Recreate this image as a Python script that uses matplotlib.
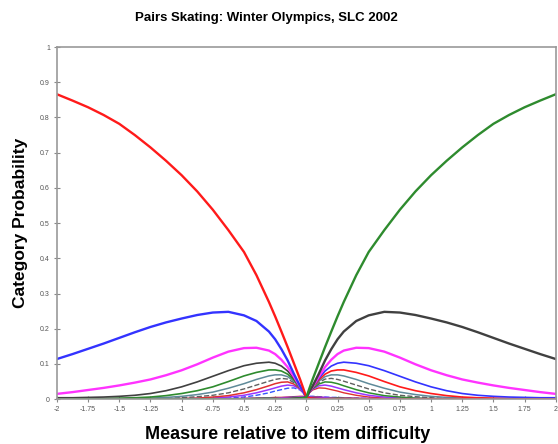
import numpy as np
import matplotlib
matplotlib.use("Agg")
import matplotlib.pyplot as plt

plt.rcParams['font.family'] = ['Liberation Sans', 'DejaVu Sans']

# measure grid (symmetric about 0)
x = [-2, -1.875, -1.75, -1.625, -1.5, -1.375, -1.25, -1.125, -1, -0.875, -0.75,
     -0.625, -0.5, -0.4, -0.3, -0.25, -0.2, -0.15, -0.1, -0.05, -0.025, 0,
     0.025, 0.05, 0.1, 0.15, 0.2, 0.25, 0.3, 0.4, 0.5, 0.625, 0.75,
     0.875, 1, 1.125, 1.25, 1.375, 1.5, 1.625, 1.75, 1.875, 2]

# lower categories; upper categories mirror them
cat0 = [0.866, 0.848, 0.829, 0.807, 0.782, 0.750, 0.715, 0.677, 0.636, 0.590, 0.538,
        0.480, 0.418, 0.352, 0.276, 0.235, 0.192, 0.148, 0.102, 0.056, 0.031, 0.005,
        0.003, 0.002, 0.001] + [0] * 18
cat1 = [0.114, 0.128, 0.143, 0.158, 0.174, 0.190, 0.205, 0.218, 0.229, 0.239, 0.246,
        0.248, 0.238, 0.222, 0.192, 0.170, 0.142, 0.110, 0.072, 0.037, 0.022, 0.005,
        0.004, 0.003, 0.002, 0.001] + [0] * 17
cat2 = [0.015, 0.020, 0.026, 0.032, 0.039, 0.047, 0.056, 0.068, 0.082, 0.099, 0.118,
        0.135, 0.145, 0.146, 0.138, 0.128, 0.112, 0.091, 0.064, 0.035, 0.021, 0.005,
        0.005, 0.004, 0.003, 0.002, 0.001] + [0] * 16
cat3 = [0.004, 0.004, 0.005, 0.006, 0.008, 0.011, 0.016, 0.024, 0.035, 0.049, 0.065,
        0.081, 0.095, 0.102, 0.105, 0.102, 0.094, 0.080, 0.059, 0.034, 0.021, 0.005,
        0.006, 0.005, 0.004, 0.003, 0.002, 0.001, 0.001] + [0] * 14
cat4 = [0.001, 0.001, 0.002, 0.002, 0.003, 0.004, 0.006, 0.010, 0.016, 0.024, 0.035,
        0.050, 0.066, 0.076, 0.083, 0.083, 0.080, 0.071, 0.055, 0.033, 0.020, 0.005,
        0.006, 0.005, 0.004, 0.003, 0.002, 0.002, 0.001, 0.001] + [0] * 13
cat5 = [0, 0, 0, 0, 0.001, 0.002, 0.003, 0.005, 0.008, 0.013, 0.020,
        0.031, 0.044, 0.056, 0.066, 0.069, 0.069, 0.064, 0.051, 0.032, 0.020, 0.005,
        0.006, 0.005, 0.004, 0.003, 0.003, 0.002, 0.002, 0.001, 0.001] + [0] * 12
cat6 = [0, 0, 0, 0, 0, 0, 0.001, 0.002, 0.004, 0.007, 0.011,
        0.018, 0.029, 0.040, 0.051, 0.056, 0.059, 0.057, 0.047, 0.031, 0.020, 0.005,
        0.006, 0.006, 0.005, 0.004, 0.003, 0.003, 0.002, 0.002, 0.001, 0.001] + [0] * 11
cat7 = [0, 0, 0, 0, 0, 0, 0, 0.001, 0.002, 0.003, 0.006,
        0.010, 0.018, 0.027, 0.038, 0.044, 0.048, 0.049, 0.043, 0.030, 0.019, 0.005,
        0.007, 0.006, 0.005, 0.004, 0.004, 0.003, 0.003, 0.002, 0.001, 0.001] + [0] * 11
cat8 = [0, 0, 0, 0, 0, 0, 0, 0, 0.001, 0.002, 0.003,
        0.006, 0.011, 0.018, 0.027, 0.032, 0.037, 0.040, 0.038, 0.028, 0.019, 0.005,
        0.007, 0.007, 0.006, 0.005, 0.004, 0.004, 0.003, 0.002, 0.002, 0.001, 0.001] + [0] * 10
cat9 = [0, 0, 0, 0, 0, 0, 0, 0, 0, 0, 0.001,
        0.003, 0.006, 0.011, 0.018, 0.023, 0.027, 0.031, 0.032, 0.026, 0.018, 0.005,
        0.008, 0.008, 0.007, 0.006, 0.005, 0.005, 0.004, 0.003, 0.002, 0.001, 0.001] + [0] * 10

lower = [cat0, cat1, cat2, cat3, cat4, cat5, cat6, cat7, cat8, cat9]
lower_colors = ['#ff1a1a', '#3333ff', '#ff33ff', '#404040', '#2e8b2e',
                '#5f8a99', '#606060', '#e03030', '#9933ff', '#3355ff']
lower_styles = ['-', '-', '-', '-', '-', '-', '--', '-', '-', '--']
upper_colors = ['#e03030', '#9933ff', '#2e8b2e', '#606060', '#5f8a99',
                '#ff1a1a', '#3333ff', '#ff33ff', '#404040', '#2e8b2e']
upper_styles = ['-', '-', '-', '--', '-', '-', '-', '-', '-', '-']
widths = [1.7, 1.7, 1.7, 1.2, 1.2, 1.1, 1.0, 1.1, 1.1, 1.0]

fig = plt.figure(figsize=(5.58, 4.44), dpi=100)
ax = fig.add_axes([0.102, 0.101, 0.894, 0.793])

for i in range(9, -1, -1):
    ax.plot(x, lower[i], color=lower_colors[i], ls=lower_styles[i], lw=widths[i])
    # upper category 19-i mirrors lower category i
    ax.plot(x, lower[i][::-1], color=upper_colors[9 - i], ls=upper_styles[9 - i], lw=widths[i])

ax.set_xlim(-2, 2)
ax.set_ylim(0, 1)
ax.set_xticks(np.arange(-2, 2.01, 0.25))
ax.set_xticklabels(['-2', '-1.75', '-1.5', '-1.25', '-1', '-0.75', '-0.5', '-0.25', '0',
                    '0.25', '0.5', '0.75', '1', '1.25', '1.5', '1.75', '2'])
ax.set_yticks(np.arange(0, 1.01, 0.1))
ax.set_yticklabels(['0', '0.1', '0.2', '0.3', '0.4', '0.5', '0.6', '0.7', '0.8', '0.9', '1'])
ax.tick_params(direction='inout', length=4, width=0.8, color='#888888',
               labelsize=5, labelcolor='#555555', pad=3)
for s in ax.spines.values():
    s.set_color('#999999')
    s.set_linewidth(1.2)

ax.set_title('Pairs Skating: Winter Olympics, SLC 2002', fontsize=9.5, fontweight='bold',
             pad=19, x=0.42)
ax.set_xlabel('Measure relative to item difficulty', fontsize=13, fontweight='bold')
ax.xaxis.set_label_coords(0.463, -0.075)
ax.set_ylabel('Category Probability', fontsize=12.5, fontweight='bold', labelpad=9)

fig.savefig('out.png', dpi=100)
